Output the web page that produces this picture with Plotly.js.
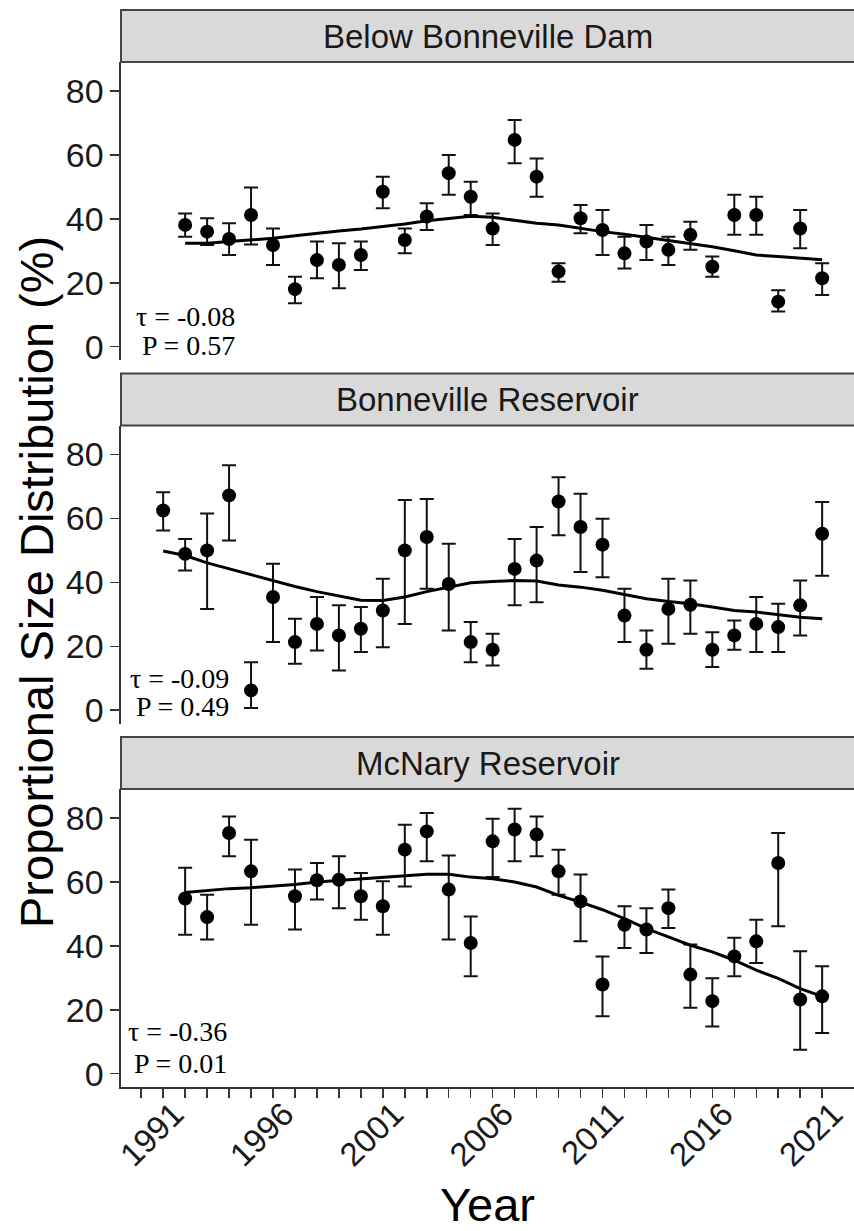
<!DOCTYPE html>
<html>
<head>
<meta charset="utf-8">
<script src="https://cdn.plot.ly/plotly-3.0.1.min.js"></script>
<style>
html, body { margin:0; padding:0; overflow:hidden; background:#fff; }
#chart { width:854px; height:1231px; }
</style>
</head>
<body>
<div id="chart"></div>
<script>
// ---------- DATA ----------
const panelTitles = ["Below Bonneville Dam", "Bonneville Reservoir", "McNary Reservoir"];
const statTau = ["τ = -0.08", "τ = -0.09", "τ = -0.36"];
const statP = ["P = 0.57", "P = 0.49", "P = 0.01"];

// Below Bonneville Dam
const years1 = [1992,1993,1994,1995,1996,1997,1998,1999,2000,2001,2002,2003,2004,2005,2006,2007,2008,2009,2010,2011,2012,2013,2014,2015,2016,2017,2018,2019,2020,2021];
const psd1   = [38.1,36.0,33.7,41.2,31.8,18.0,27.1,25.6,28.7,48.5,33.4,40.7,54.3,46.9,37.0,64.7,53.2,23.5,40.2,36.5,29.2,32.9,30.3,35.0,25.0,41.2,41.2,14.1,37.0,21.4];
const upper1 = [41.7,40.2,38.6,49.8,37.0,21.9,32.9,32.4,32.9,53.2,37.0,44.9,60.0,51.6,41.7,70.9,58.9,26.1,44.3,42.8,34.4,38.1,34.4,39.1,28.2,47.5,46.9,17.7,42.8,26.1];
const lower1 = [34.4,31.8,28.7,32.0,25.6,13.6,21.4,18.3,24.0,43.3,29.2,36.5,47.5,41.2,31.8,57.4,46.9,20.3,35.5,28.7,24.5,27.1,25.6,30.3,21.9,35.0,35.0,11.0,30.8,16.2];
const trendYears1 = [1992,1993,1994,1995,1996,1997,1998,1999,2000,2001,2002,2003,2004,2005,2006,2007,2008,2009,2010,2011,2012,2013,2014,2015,2016,2017,2018,2019,2020,2021];
const trend1 = [32.4,32.4,32.9,33.4,33.9,34.7,35.5,36.2,36.8,37.5,38.4,39.4,40.2,40.8,40.5,39.6,38.6,38.1,37.0,36.0,35.2,34.2,33.4,32.4,31.3,30.0,28.7,28.2,27.6,27.2];

// Bonneville Reservoir
const years2 = [1991,1992,1993,1994,1995,1996,1997,1998,1999,2000,2001,2002,2003,2004,2005,2006,2007,2008,2009,2010,2011,2012,2013,2014,2015,2016,2017,2018,2019,2020,2021];
const psd2   = [62.5,48.9,50.0,67.2,6.2,35.4,21.3,27.0,23.4,25.5,31.2,50.0,54.2,39.5,21.3,18.9,44.2,46.8,65.3,57.3,51.8,29.6,18.9,31.7,33.0,18.9,23.4,27.0,26.0,32.8,55.2];
const upper2 = [68.2,53.6,61.5,76.6,15.0,45.8,28.6,35.4,32.8,32.3,41.1,65.8,66.1,52.1,27.6,23.9,53.6,57.3,72.9,67.7,59.9,38.0,24.9,41.1,40.6,24.4,28.1,35.4,33.3,40.6,65.1];
const lower2 = [56.2,43.7,31.7,53.1,0.7,21.3,14.5,18.7,12.4,18.2,19.7,27.0,38.0,24.9,15.0,14.0,32.8,33.8,54.7,43.2,41.6,21.3,13.0,20.8,23.9,13.5,18.9,18.2,18.2,23.4,42.1];
const trendYears2 = [1991,1992,1993,1994,1995,1996,1997,1998,1999,2000,2001,2002,2003,2004,2005,2006,2007,2008,2009,2010,2011,2012,2013,2014,2015,2016,2017,2018,2019,2020,2021];
const trend2 = [49.8,48.4,46.1,44.2,42.4,40.4,38.7,37.1,35.7,34.4,34.3,35.4,37.1,38.5,39.9,40.3,40.6,40.4,39.2,38.5,37.5,36.2,34.9,34.0,33.3,32.3,31.2,30.7,29.8,29.1,28.6];

// McNary Reservoir
const years3 = [1992,1993,1994,1995,1997,1998,1999,2000,2001,2002,2003,2004,2005,2006,2007,2008,2009,2010,2011,2012,2013,2014,2015,2016,2017,2018,2019,2020,2021];
const psd3   = [54.8,49.0,75.3,63.3,55.5,60.5,60.7,55.5,52.4,70.1,75.8,57.6,40.9,72.7,76.4,74.8,63.3,53.9,27.9,46.6,45.1,51.8,31.0,22.7,36.7,41.4,65.9,23.2,24.2];
const upper3 = [64.4,56.0,80.5,73.2,63.9,65.9,68.0,62.8,60.2,77.9,81.6,68.3,49.2,79.8,82.9,80.5,70.1,62.3,36.7,52.4,51.8,57.6,40.4,29.9,42.5,48.2,75.3,38.3,33.6];
const lower3 = [43.5,42.0,68.0,46.6,45.1,54.5,51.8,48.2,43.5,58.6,66.5,42.0,30.5,61.5,66.5,68.0,56.0,41.4,18.0,39.3,37.8,45.6,20.6,14.8,30.5,34.6,46.1,7.5,12.7];
const trendYears3 = [1992,1993,1994,1995,1996,1997,1998,1999,2000,2001,2002,2003,2004,2005,2006,2007,2008,2009,2010,2011,2012,2013,2014,2015,2016,2017,2018,2019,2020,2021];
const trend3 = [56.7,57.4,57.9,58.2,58.6,59.2,60.0,60.5,60.8,61.4,61.8,62.4,62.4,61.5,61.0,60.0,58.4,55.8,53.7,51.3,48.5,45.4,42.8,40.2,38.1,35.5,32.4,29.8,26.6,24.2];

// Axis ticks
const yTickVals = [0,20,40,60,80];
const xLabelYears = [1991,1996,2001,2006,2011,2016,2021];
const xFirstTick = 1990, xLastTick = 2021;

// ---------- LAYOUT HELPERS ----------
const W = 854, H = 1231;
const M = {l:121, r:0, t:10, b:144};
const plotBottom = H - M.b, plotH = H - M.t - M.b, plotW = W - M.l - M.r;
const py = p => (plotBottom - p) / plotH;       // pixel y -> paper
const px = p => (p - M.l) / plotW;               // pixel x -> paper

const panels = [
  {plot:[62,360],    strip:[10,62]},
  {plot:[425.5,723.5], strip:[373.5,425.5]},
  {plot:[789,1087],  strip:[737,789]}
];

const series = [
  {x:years1, y:psd1, up:upper1, lo:lower1, tx:trendYears1, ty:trend1},
  {x:years2, y:psd2, up:upper2, lo:lower2, tx:trendYears2, ty:trend2},
  {x:years3, y:psd3, up:upper3, lo:lower3, tx:trendYears3, ty:trend3}
];

const axisColor = '#333333';
const traces = [];
series.forEach((s, i) => {
  const ya = i === 0 ? 'y' : 'y' + (i + 1);
  traces.push({
    type:'scatter', mode:'markers', x:s.x, y:s.y, xaxis:'x', yaxis:ya,
    marker:{color:'#000', size:14},
    error_y:{type:'data', symmetric:false,
      array:s.up.map((u,k)=>u - s.y[k]),
      arrayminus:s.lo.map((l,k)=>s.y[k] - l),
      color:'#111', thickness:2, width:7},
    showlegend:false, hoverinfo:'skip'
  });
  traces.push({
    type:'scatter', mode:'lines', x:s.tx, y:s.ty, xaxis:'x', yaxis:ya,
    line:{color:'#000', width:3},
    showlegend:false, hoverinfo:'skip'
  });
});

const tickVals = [], tickText = [];
for (let yr = xFirstTick; yr <= xLastTick; yr++) {
  tickVals.push(yr);
  tickText.push(xLabelYears.includes(yr) ? String(yr) : '');
}

const sansFont = 'Liberation Sans, Arial, sans-serif';
const serifFont = 'Liberation Serif, Times New Roman, serif';

const layout = {
  width: W, height: H,
  margin: {l:M.l, r:M.r, t:M.t, b:M.b, pad:0},
  paper_bgcolor:'#fff', plot_bgcolor:'#fff',
  font:{family:sansFont, color:'#1a1a1a'},
  showlegend:false,
  xaxis:{
    domain:[0,1], anchor:'y3', range:[1989.08, 2022.45],
    showline:true, linecolor:axisColor, linewidth:1.6,
    ticks:'outside', ticklen:9, tickwidth:1.5, tickcolor:axisColor,
    tickmode:'array', tickvals:tickVals, ticktext:tickText,
    tickangle:-45, tickfont:{size:33, color:'#1a1a1a', family:sansFont},
    ticklabelshift:11, ticklabelstandoff:-16,
    showgrid:false, zeroline:false
  },
  shapes:[], annotations:[]
};

panels.forEach((p, i) => {
  const key = i === 0 ? 'yaxis' : 'yaxis' + (i + 1);
  layout[key] = {
    domain:[py(p.plot[1]), py(p.plot[0])], anchor:'x',
    range:[-4.16, 89.07],
    showline:true, linecolor:axisColor, linewidth:1.6,
    ticks:'outside', ticklen:9, tickwidth:1.5, tickcolor:axisColor,
    tickmode:'array', tickvals:yTickVals,
    tickfont:{size:34, color:'#1a1a1a', family:sansFont},
    showgrid:false, zeroline:false
  };
  layout.shapes.push({
    type:'rect', xref:'paper', yref:'paper', layer:'above',
    x0:0, x1:1.02, y0:py(p.strip[1]), y1:py(p.strip[0]),
    fillcolor:'#d9d9d9', line:{color:'#444', width:2}
  });
  layout.annotations.push({
    xref:'paper', yref:'paper', x:0.5, y:py((p.strip[0]+p.strip[1])/2),
    xanchor:'center', yanchor:'middle', showarrow:false,
    text:panelTitles[i], font:{size:33, color:'#1a1a1a', family:sansFont}
  });
});

// statistics text
const statRight = [237, 231, 229];
const tauY = [316, 678.3, 1031.7];
const pY = [345.5, 706.7, 1063.3];
for (let i = 0; i < 3; i++) {
  layout.annotations.push({
    xref:'paper', yref:'paper', x:px(statRight[i]), y:py(tauY[i]),
    xanchor:'right', yanchor:'middle', showarrow:false,
    text:statTau[i], font:{size:28, color:'#000', family:serifFont}
  });
  layout.annotations.push({
    xref:'paper', yref:'paper', x:px(statRight[i]), y:py(pY[i]),
    xanchor:'right', yanchor:'middle', showarrow:false,
    text:statP[i], font:{size:28, color:'#000', family:serifFont}
  });
}

// axis titles
layout.annotations.push({
  xref:'paper', yref:'paper', x:px(36), y:py(582),
  xanchor:'center', yanchor:'middle', showarrow:false, textangle:-90,
  text:'Proportional Size Distribution (%)', font:{size:47, color:'#000', family:sansFont}
});
layout.annotations.push({
  xref:'paper', yref:'paper', x:px(487), y:py(1204),
  xanchor:'center', yanchor:'middle', showarrow:false,
  text:'Year', font:{size:47, color:'#000', family:sansFont}
});

Plotly.newPlot('chart', traces, layout, {staticPlot:true, displayModeBar:false});
</script>
</body>
</html>
